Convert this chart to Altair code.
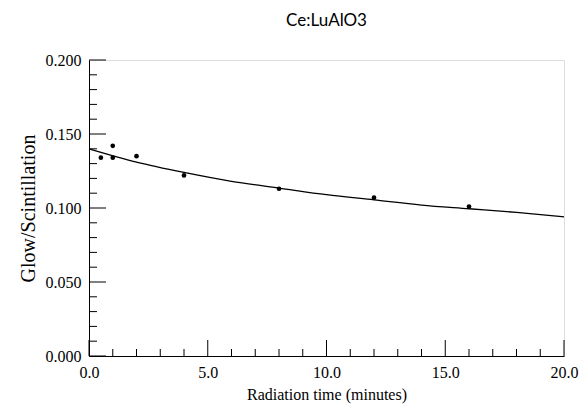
import altair as alt
import pandas as pd

# measured points
pt_time = [0.5, 1.0, 1.0, 2.0, 4.0, 8.0, 12.0, 16.0]
pt_ratio = [0.134, 0.142, 0.134, 0.135, 0.122, 0.113, 0.107, 0.101]

# fitted curve
fit_time = [0, 2, 4, 6, 8, 10, 12, 14, 16, 18, 20]
fit_ratio = [0.140, 0.131, 0.124, 0.118, 0.1135, 0.109, 0.1055, 0.102, 0.0995, 0.097, 0.094]

x_major = [0, 5, 10, 15, 20]
x_minor = [1, 2, 3, 4, 6, 7, 8, 9, 11, 12, 13, 14, 16, 17, 18, 19]
y_major = [0.0, 0.05, 0.10, 0.15, 0.20]
y_minor = [0.01, 0.02, 0.03, 0.04, 0.06, 0.07, 0.08, 0.09, 0.11, 0.12, 0.13, 0.14,
           0.16, 0.17, 0.18, 0.19]

W, H = 475, 296
FONT = "Liberation Serif"

pts = pd.DataFrame({"t": pt_time, "r": pt_ratio})
fit = pd.DataFrame({"t": fit_time, "r": fit_ratio})

xs = alt.Scale(domain=[0, 20], nice=False)
ys = alt.Scale(domain=[0, 0.2], nice=False)

xax = alt.Axis(values=x_major, format=".1f", tickSize=0, domainColor="black",
               labelFont=FONT, labelFontSize=16, labelColor="black", labelPadding=8,
               labelFlush=False, labelOverlap=False,
               title="Radiation time (minutes)", titleFont=FONT, titleFontSize=16,
               titleFontWeight="normal", titleColor="black", titlePadding=6, grid=False)
yax = alt.Axis(values=y_major, format=".3f", tickSize=0, domainColor="black",
               labelFont=FONT, labelFontSize=16, labelColor="black", labelPadding=8,
               labelFlush=False, labelOverlap=False,
               title="Glow/Scintillation", titleFont=FONT, titleFontSize=20,
               titleFontWeight="normal", titleColor="black", titlePadding=7, grid=False)

line = alt.Chart(fit).mark_line(color="black", strokeWidth=1.3, interpolate="monotone").encode(
    x=alt.X("t:Q", scale=xs, axis=xax),
    y=alt.Y("r:Q", scale=ys, axis=yax),
)
dots = alt.Chart(pts).mark_circle(color="black", opacity=1, size=22).encode(
    x=alt.X("t:Q", scale=xs),
    y=alt.Y("r:Q", scale=ys),
)

def xticks(vals, length):
    d = pd.DataFrame({"t": vals})
    return alt.Chart(d).mark_rule(color="black", strokeWidth=1).encode(
        x=alt.X("t:Q", scale=xs), y=alt.value(H), y2=alt.value(H - length))

def yticks(vals, length):
    d = pd.DataFrame({"r": vals})
    return alt.Chart(d).mark_rule(color="black", strokeWidth=1).encode(
        y=alt.Y("r:Q", scale=ys), x=alt.value(0), x2=alt.value(length))

chart = alt.layer(
    line, dots,
    xticks(x_major, 16), xticks(x_minor, 7),
    yticks(y_major, 17), yticks(y_minor, 8),
).properties(
    width=W, height=H,
    title=alt.Title("Ce:LuAlO3", font="Lato", fontSize=17, fontWeight="normal",
                    color="black", anchor="middle", offset=22),
    autosize=alt.AutoSizeParams(type="none"),
    padding={"left": 81, "top": 52, "right": 16, "bottom": 50},
).configure_view(stroke="black", strokeWidth=1).configure(background="white")

chart.save("out.html", embed_options={"renderer": "svg", "actions": False})
